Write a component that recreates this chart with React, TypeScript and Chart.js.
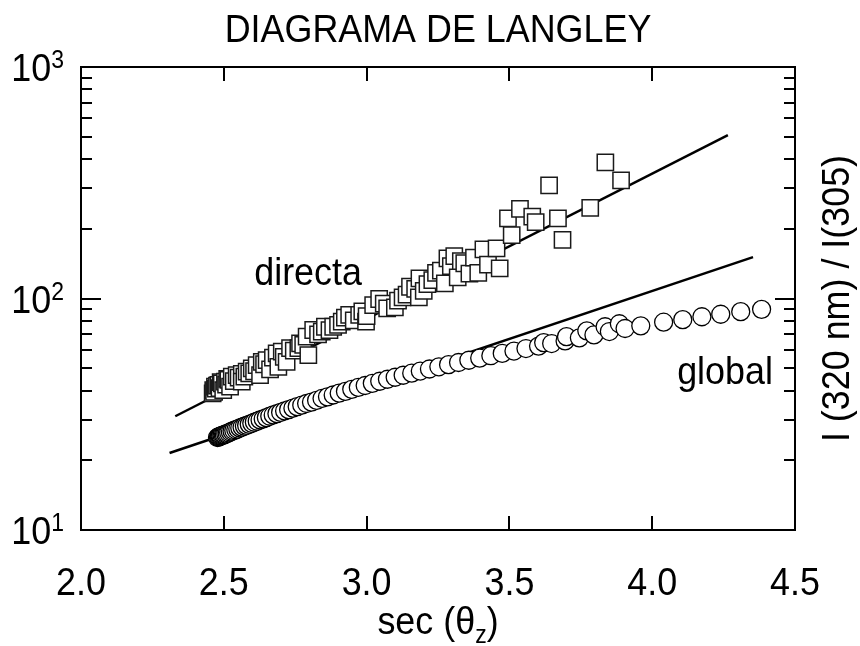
import React, { useEffect, useRef } from "react";
import { Chart, registerables } from "chart.js";

Chart.register(...registerables);

// ---- data ----
const directaX = [
  2.461, 2.463, 2.466, 2.469, 2.472, 2.476, 2.481, 2.485, 2.489, 2.493, 2.498, 2.504, 2.508, 2.512, 2.516,
  2.522, 2.528, 2.535, 2.545, 2.552, 2.563, 2.563, 2.572, 2.58, 2.589, 2.598, 2.606, 2.615, 2.627, 2.633,
  2.641, 2.65, 2.662, 2.672, 2.685, 2.691, 2.703, 2.71, 2.72, 2.732, 2.745, 2.761, 2.767, 2.778, 2.79,
  2.796, 2.813, 2.83, 2.843, 2.854, 2.87, 2.883, 2.9, 2.913, 2.924, 2.939, 2.955, 2.974, 2.985, 2.998,
  3.0, 3.023, 3.044, 3.06, 3.072, 3.099, 3.11, 3.126, 3.14, 3.152, 3.17, 3.183, 3.185, 3.2, 3.213,
  3.23, 3.243, 3.26, 3.274, 3.283, 3.295, 3.307, 3.319, 3.33, 3.342, 3.36, 3.376, 3.391, 3.409, 3.425,
  3.455, 3.466, 3.495, 3.508, 3.537, 3.58, 3.592, 3.639, 3.67, 3.686, 3.783, 3.836, 3.891,
];
const directaY = [
  38.9, 40.2, 39.5, 41.6, 40.8, 42.0, 42.3, 41.0, 43.5, 43.0, 40.2, 43.7, 42.5, 45.0, 44.5,
  41.6, 46.0, 44.0, 46.7, 45.5, 47.2, 43.7, 46.0, 48.3, 47.5, 49.9, 48.5, 51.6, 46.7, 53.3,
  52.0, 54.2, 49.4, 55.5, 58.0, 50.7, 58.9, 56.0, 53.3, 61.0, 59.5, 61.0, 64.0, 63.0, 68.4,
  57.0, 73.1, 70.0, 71.9, 75.5, 73.0, 75.5, 77.0, 79.4, 82.6, 84.9, 80.5, 84.9, 88.0, 79.4,
  84.0, 93.7, 99.5, 95.0, 90.7, 91.6, 98.0, 101.2, 104, 112.4, 110, 101.2, 122.3, 108, 115.5,
  120, 129, 132, 116.3, 149, 138, 152.5, 123.4, 145, 142, 128, 150.3, 129, 163, 140,
  164.7, 135, 222, 188, 244, 226, 213.6, 308, 222, 179, 246.5, 386.9, 324,
];

const globalX = [
  2.478, 2.481, 2.484, 2.487, 2.49, 2.494, 2.498, 2.502, 2.507, 2.512, 2.517, 2.523, 2.529, 2.535, 2.542,
  2.549, 2.556, 2.564, 2.572, 2.58, 2.589, 2.598, 2.607, 2.617, 2.627, 2.638, 2.649, 2.661, 2.673, 2.686,
  2.699, 2.713, 2.727, 2.742, 2.757, 2.773, 2.79, 2.807, 2.825, 2.844, 2.863, 2.883, 2.904, 2.926, 2.948,
  2.971, 2.995, 3.02, 3.046, 3.073, 3.1, 3.128, 3.158, 3.188, 3.22, 3.253, 3.287, 3.322, 3.358, 3.396,
  3.435, 3.475, 3.516, 3.558, 3.602, 3.62, 3.648, 3.695, 3.7, 3.745, 3.771, 3.796, 3.835, 3.85, 3.885,
  3.905, 3.96, 4.04, 4.107, 4.174, 4.24, 4.31, 4.383,
];
const globalY = [
  25.1, 25.2, 25.3, 25.4, 25.5, 25.6, 25.7, 25.8, 26.0, 26.1, 26.3, 26.5, 26.7, 26.9, 27.1,
  27.3, 27.6, 27.8, 28.1, 28.3, 28.6, 28.9, 29.2, 29.5, 29.9, 30.2, 30.6, 31.0, 31.4, 31.8,
  32.2, 32.7, 33.1, 33.6, 34.1, 34.6, 35.2, 35.7, 36.3, 37.0, 37.6, 38.3, 39.0, 39.7, 40.5,
  41.3, 42.1, 43.0, 43.9, 44.8, 45.7, 46.6, 47.6, 48.6, 49.6, 50.7, 51.8, 52.9, 54.1, 55.3,
  56.6, 57.9, 59.3, 60.8, 62.3, 64.5, 63.9, 65.6, 68.4, 67.6, 72.5, 69.6, 75.5, 72.0, 77.8,
  74.2, 76.2, 79.0, 81.0, 83.4, 85.5, 87.7, 89.8,
];

const fitDirectaX = [2.33, 4.265];
const fitDirectaY = [31, 508];
const fitGlobalX = [2.31, 4.353];
const fitGlobalY = [21.5, 151];

const xTickValues = [2.0, 2.5, 3.0, 3.5, 4.0, 4.5];
const xTickLabels = ["2.0", "2.5", "3.0", "3.5", "4.0", "4.5"];
const yMajorValues = [10, 100, 1000];
const yMajorExp = ["1", "2", "3"];
const yMinorValues = [20, 30, 40, 50, 60, 70, 80, 90, 200, 300, 400, 500, 600, 700, 800, 900];

const titleText = "DIAGRAMA DE LANGLEY";
const xTitleParts = ["sec (\u03B8", "z", ")"];
const yTitleText = "I (320 nm) / I(305)";
const labelDirecta = { text: "directa", x: 2.795, y: 114 };
const labelGlobal = { text: "global", x: 4.255, y: 42.7 };

const FONT = '"Liberation Sans", Arial, Helvetica, sans-serif';
const SX = 0.92;
const FS = 39;
const FS_SMALL = 25;

function pts(xs: number[], ys: number[]) {
  return xs.map((x, i) => ({ x, y: ys[i] }));
}

function txt(ctx: CanvasRenderingContext2D, t: string, x: number, y: number, size: number, align: CanvasTextAlign) {
  ctx.save();
  ctx.font = `${size}px ${FONT}`;
  ctx.translate(x, y);
  ctx.scale(SX, 1);
  ctx.textAlign = align;
  ctx.textBaseline = "alphabetic";
  ctx.fillStyle = "#000";
  ctx.fillText(t, 0, 0);
  ctx.restore();
}
function tw(ctx: CanvasRenderingContext2D, t: string, size: number) {
  ctx.save();
  ctx.font = `${size}px ${FONT}`;
  const w = ctx.measureText(t).width * SX;
  ctx.restore();
  return w;
}

const framePlugin = {
  id: "frame",
  afterDraw(chart: any) {
    const ctx: CanvasRenderingContext2D = chart.ctx;
    const a = chart.chartArea;
    const xs = chart.scales.x;
    const ys = chart.scales.y;
    ctx.save();
    ctx.strokeStyle = "#000";
    ctx.lineWidth = 2;
    ctx.strokeRect(a.left, a.top, a.right - a.left, a.bottom - a.top);
    ctx.beginPath();
    xTickValues.forEach((v) => {
      const px = Math.round(xs.getPixelForValue(v));
      ctx.moveTo(px, a.bottom);
      ctx.lineTo(px, a.bottom - 14);
      ctx.moveTo(px, a.top);
      ctx.lineTo(px, a.top + 14);
    });
    yMinorValues.forEach((v) => {
      const py = Math.round(ys.getPixelForValue(v));
      ctx.moveTo(a.left, py);
      ctx.lineTo(a.left + 11, py);
      ctx.moveTo(a.right, py);
      ctx.lineTo(a.right - 11, py);
    });
    yMajorValues.forEach((v) => {
      const py = Math.round(ys.getPixelForValue(v));
      ctx.moveTo(a.left, py);
      ctx.lineTo(a.left + 20, py);
      ctx.moveTo(a.right, py);
      ctx.lineTo(a.right - 20, py);
    });
    ctx.stroke();

    // x tick labels
    xTickValues.forEach((v, i) => {
      txt(ctx, xTickLabels[i], xs.getPixelForValue(v), a.bottom + 65, FS, "center");
    });
    // y tick labels 10^n
    yMajorValues.forEach((v, i) => {
      const py = ys.getPixelForValue(v);
      const w1 = tw(ctx, "10", FS);
      const w2 = tw(ctx, yMajorExp[i], FS_SMALL);
      const right = a.left - 17;
      txt(ctx, "10", right - w1 - w2, py + 14, FS, "left");
      txt(ctx, yMajorExp[i], right - w2, py + 1, FS_SMALL, "left");
    });
    // title
    txt(ctx, titleText, (a.left + a.right) / 2, 42, FS, "center");
    // x title
    const p0 = tw(ctx, xTitleParts[0], FS);
    const p1 = tw(ctx, xTitleParts[1], FS_SMALL);
    const p2 = tw(ctx, xTitleParts[2], FS);
    const cx = (a.left + a.right) / 2;
    const start = cx - (p0 + p1 + p2) / 2;
    const base = a.bottom + 104;
    txt(ctx, xTitleParts[0], start, base, FS, "left");
    txt(ctx, xTitleParts[1], start + p0, base + 9, FS_SMALL, "left");
    txt(ctx, xTitleParts[2], start + p0 + p1, base, FS, "left");
    // y title (right side, rotated)
    ctx.save();
    ctx.translate(a.right + 54, (a.top + a.bottom) / 2);
    ctx.rotate(-Math.PI / 2);
    ctx.scale(SX, 1);
    ctx.font = `${FS}px ${FONT}`;
    ctx.textAlign = "center";
    ctx.textBaseline = "alphabetic";
    ctx.fillStyle = "#000";
    ctx.fillText(yTitleText, 0, 0);
    ctx.restore();
    // series labels
    [labelDirecta, labelGlobal].forEach((l) => {
      txt(ctx, l.text, xs.getPixelForValue(l.x), ys.getPixelForValue(l.y), FS, "center");
    });
    ctx.restore();
  },
};

export default function App() {
  const ref = useRef<HTMLCanvasElement>(null);
  useEffect(() => {
    document.body.style.margin = "0";
    const canvas = ref.current!;
    const chart = new Chart(canvas, {
      type: "scatter",
      data: {
        datasets: [
          {
            label: "directa",
            data: pts(directaX, directaY),
            pointStyle: "rect",
            pointRadius: 11.5,
            backgroundColor: "#ffffff",
            borderColor: "#1a1a1a",
            borderWidth: 1.5,
            order: 1,
          },
          {
            label: "global",
            data: pts(globalX, globalY),
            pointStyle: "circle",
            pointRadius: 9,
            backgroundColor: "#ffffff",
            borderColor: "#000000",
            borderWidth: 1.3,
            order: 1,
          },
          {
            label: "fit directa",
            data: pts(fitDirectaX, fitDirectaY),
            showLine: true,
            pointRadius: 0,
            borderColor: "#000",
            borderWidth: 2.5,
            order: 2,
          },
          {
            label: "fit global",
            data: pts(fitGlobalX, fitGlobalY),
            showLine: true,
            pointRadius: 0,
            borderColor: "#000",
            borderWidth: 2.5,
            order: 2,
          },
        ],
      } as any,
      options: {
        animation: false,
        responsive: false,
        devicePixelRatio: 1,
        layout: { padding: { top: 67, right: 65, left: 0, bottom: 0 } },
        plugins: { legend: { display: false }, tooltip: { enabled: false }, title: { display: false } },
        scales: {
          x: {
            type: "linear",
            min: 2,
            max: 4.5,
            position: "bottom",
            grid: { display: false },
            border: { display: false },
            ticks: { display: false },
            afterFit: (s: any) => {
              s.height = 116;
            },
          },
          y: {
            type: "logarithmic",
            min: 10,
            max: 1000,
            position: "left",
            grid: { display: false },
            border: { display: false },
            ticks: { display: false },
            afterFit: (s: any) => {
              s.width = 81;
            },
          },
        },
      } as any,
      plugins: [framePlugin],
    });
    return () => chart.destroy();
  }, []);
  return (
    <div style={{ position: "fixed", left: 0, top: 0, width: 860, height: 646, background: "#fff" }}>
      <canvas ref={ref} width={860} height={646} style={{ display: "block", width: 860, height: 646 }} />
    </div>
  );
}
